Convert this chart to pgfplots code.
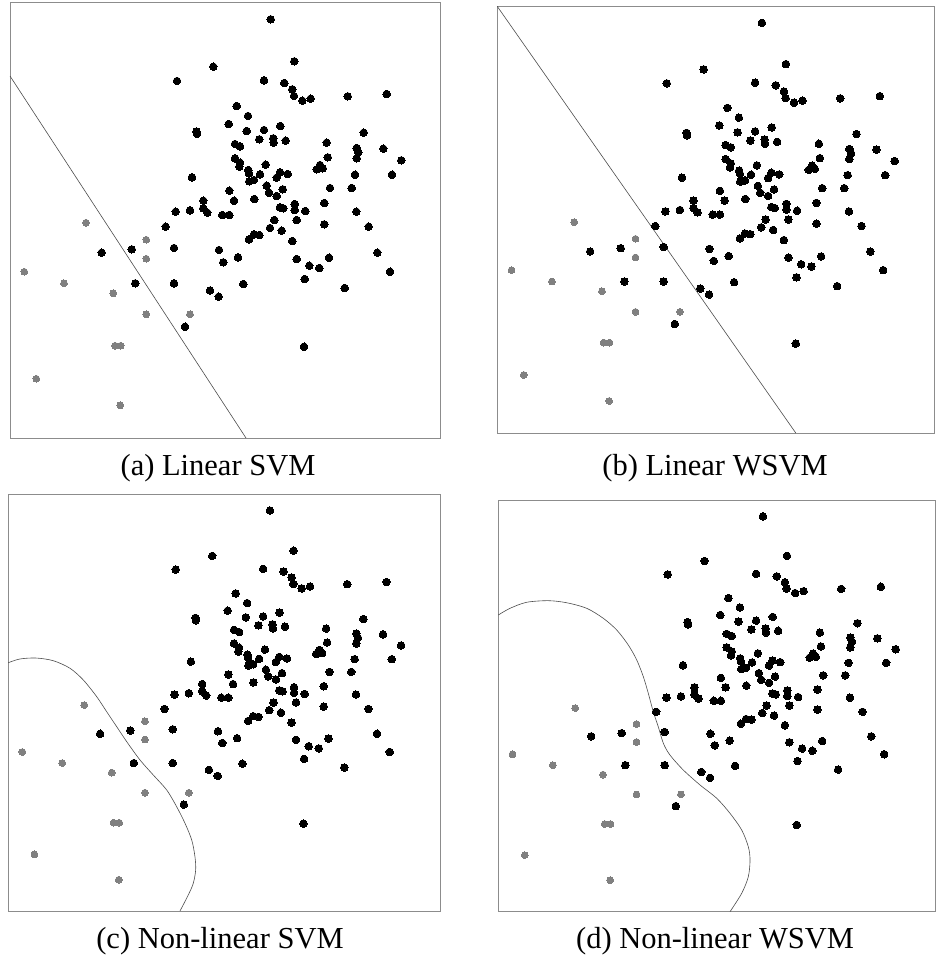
\documentclass[border=0pt]{standalone}
\usepackage{pgfplots}
\pgfplotsset{compat=1.18}
\usepackage{pgfplotstable}
\usepackage{fontspec}
\setmainfont{Liberation Serif}
\definecolor{dotgrey}{gray}{0.5}
\definecolor{framegrey}{gray}{0.55}
\definecolor{curvegrey}{gray}{0.3}

\pgfplotstableread{
x y
270.7 -19.3
294.3 -61.3
213.3 -66.7
177.0 -81.0
264.0 -80.3
284.3 -83.0
292.3 -89.3
294.0 -96.0
236.7 -106.0
248.0 -116.0
228.7 -124.0
196.5 -131.5
197.0 -134.0
246.7 -131.0
264.0 -130.0
280.3 -126.0
259.3 -139.3
273.3 -138.3
273.7 -142.7
285.7 -140.7
235.0 -144.0
240.0 -146.3
302.3 -100.7
310.7 -98.7
347.7 -96.3
386.7 -94.0
363.7 -132.7
326.7 -142.7
356.7 -148.0
383.3 -148.7
235.0 -158.3
240.0 -162.7
239.3 -166.7
248.3 -170.0
249.0 -173.3
265.7 -164.7
260.0 -174.3
280.0 -172.3
287.7 -174.0
276.7 -177.7
249.3 -181.3
254.0 -180.0
266.7 -185.7
269.0 -192.7
282.7 -189.3
276.7 -196.0
192.0 -177.3
229.3 -190.7
203.3 -200.7
234.0 -200.7
254.3 -199.0
175.7 -211.7
190.0 -210.3
203.3 -208.3
207.3 -212.7
222.3 -215.0
229.3 -215.0
280.0 -207.3
283.3 -208.3
294.7 -204.0
294.7 -210.0
165.7 -226.7
274.3 -220.0
296.7 -220.0
270.0 -228.0
281.7 -230.7
249.0 -239.3
254.0 -234.3
259.3 -235.0
292.3 -241.0
174.0 -248.0
219.0 -250.0
238.0 -257.3
223.3 -262.3
296.7 -259.0
174.0 -283.3
210.0 -290.5
243.3 -284.0
358.3 -152.3
327.7 -157.3
356.7 -158.3
401.3 -160.3
320.0 -165.0
316.7 -169.3
322.7 -168.3
355.0 -174.7
392.0 -174.7
330.0 -188.0
351.7 -188.0
305.3 -211.0
324.3 -203.0
356.3 -211.7
324.3 -224.3
368.7 -226.7
377.3 -252.7
309.3 -265.7
319.3 -268.0
329.0 -257.7
390.0 -271.7
304.7 -279.0
344.7 -288.0
131.7 -249.3
101.7 -252.7
135.3 -283.3
218.7 -296.7
185.0 -326.7
304.0 -346.7
}\blackpts

\pgfplotstableread{
x y
86.0 -222.7
146.3 -239.7
146.3 -258.7
24.3 -271.7
64.0 -283.3
113.3 -293.3
146.3 -314.3
190.0 -314.3
115.0 -345.7
120.7 -345.7
36.3 -378.7
120.3 -405.3
}\greypts

\pgfplotstableread{
x y
10 -76
246 -438
}\lineA

\pgfplotstableread{
x y
10 -2
304 -438
}\lineB

\pgfplotstableread{
x y
10.3 -178.4
21.9 -174.5
37.9 -173.5
55.1 -176.3
71.7 -184.2
85.0 -196.5
98.3 -213.9
108.2 -229.6
118.2 -245.3
128.2 -261.0
141.4 -280.1
154.6 -295.8
168.0 -311.5
177.9 -329.0
186.2 -346.3
192.9 -363.8
196.1 -381.2
196.8 -395.1
194.4 -409.1
189.4 -421.3
181.2 -438.0
}\curveC

\pgfplotstableread{
x y
10.3 -124.0
21.8 -116.9
38.2 -110.5
59.5 -108.8
77.6 -111.0
97.3 -116.9
113.6 -127.5
126.8 -139.9
138.2 -155.8
146.5 -171.7
153.0 -189.4
157.9 -207.1
162.8 -226.6
167.7 -242.5
172.7 -260.1
179.2 -272.5
192.3 -288.4
208.8 -304.3
225.2 -318.4
238.3 -334.4
249.8 -352.1
256.3 -369.8
258.0 -383.9
256.3 -401.6
249.8 -419.2
238.3 -438.7
}\curveD

\pgfplotsset{
  panel/.style={
    scale only axis,
    anchor=north west,
    xmin=10, xmax=440, ymin=-438, ymax=-2,
    xtick=\empty, ytick=\empty,
    axis line style={framegrey, line width=0.9pt},
    clip=true,
  },
  blk/.style={only marks, mark=*, mark size=3.8pt, mark options={fill=black, draw=black, line width=0pt}},
  gry/.style={only marks, mark=*, mark size=3.4pt, mark options={fill=dotgrey, draw=dotgrey, line width=0pt}},
  bnd/.style={no marks, curvegrey, line width=0.6pt},
}

\begin{document}
\begin{tikzpicture}[x=1pt,y=1pt]
\useasboundingbox (0pt,0pt) rectangle (935pt,-964pt);

\begin{axis}[panel, at={(10pt,-2pt)}, width=430pt, height=436pt]
\addplot[bnd] table {\lineA};
\addplot[gry] table {\greypts};
\addplot[blk] table {\blackpts};
\end{axis}

\begin{axis}[panel, at={(497pt,-6pt)}, width=437pt, height=427pt]
\addplot[bnd] table {\lineB};
\addplot[gry] table {\greypts};
\addplot[blk] table {\blackpts};
\end{axis}

\begin{axis}[panel, at={(8pt,-494pt)}, width=432pt, height=417pt]
\addplot[bnd, smooth] table {\curveC};
\addplot[gry] table {\greypts};
\addplot[blk] table {\blackpts};
\end{axis}

\begin{axis}[panel, at={(498pt,-500pt)}, width=437pt, height=411pt]
\addplot[bnd, smooth] table {\curveD};
\addplot[gry] table {\greypts};
\addplot[blk] table {\blackpts};
\end{axis}

\fontsize{30.5}{36}\selectfont
\node[anchor=base] at (218pt,-475pt) {(a) Linear SVM};
\node[anchor=base] at (715pt,-475pt) {(b) Linear WSVM};
\node[anchor=base] at (220pt,-948pt) {(c) Non-linear SVM};
\node[anchor=base] at (715pt,-948pt) {(d) Non-linear WSVM};
\end{tikzpicture}
\end{document}
